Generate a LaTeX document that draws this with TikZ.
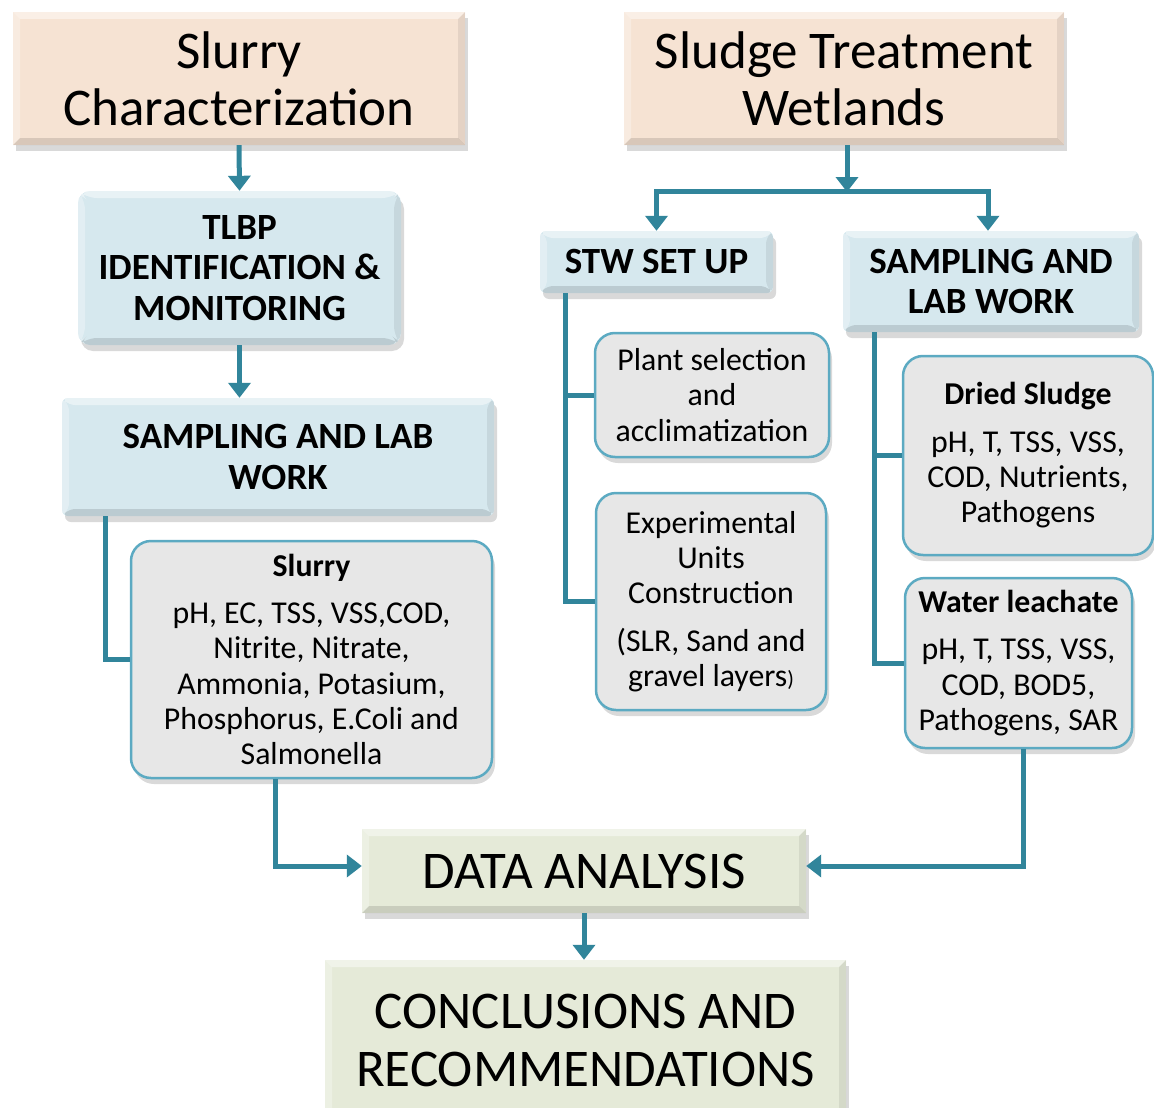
\documentclass[tikz,border=0pt]{standalone}
\usepackage{fontspec}
\setmainfont{Carlito}
\usetikzlibrary{arrows.meta,shadows}
\definecolor{peach}{RGB}{246,227,211}
\definecolor{paleblue}{RGB}{214,232,238}
\definecolor{palegray}{RGB}{231,231,231}
\definecolor{palegreen}{RGB}{229,234,216}
\definecolor{teal}{RGB}{49,133,155}
\definecolor{rim}{RGB}{92,170,194}
\tikzset{
	bevel/.style={path picture={
		\fill[white,opacity=.45] (path picture bounding box.north west) -- (path picture bounding box.north east) -- ([shift={(-7pt,-7pt)}]path picture bounding box.north east) -- ([shift={(7pt,-7pt)}]path picture bounding box.north west) -- cycle;
		\fill[white,opacity=.3] (path picture bounding box.north west) -- ([shift={(7pt,-7pt)}]path picture bounding box.north west) -- ([shift={(7pt,7pt)}]path picture bounding box.south west) -- (path picture bounding box.south west) -- cycle;
		\fill[black,opacity=.12] (path picture bounding box.south west) -- ([shift={(7pt,7pt)}]path picture bounding box.south west) -- ([shift={(-7pt,7pt)}]path picture bounding box.south east) -- (path picture bounding box.south east) -- cycle;
		\fill[black,opacity=.07] (path picture bounding box.north east) -- (path picture bounding box.south east) -- ([shift={(-7pt,7pt)}]path picture bounding box.south east) -- ([shift={(-7pt,-7pt)}]path picture bounding box.north east) -- cycle;
	}},
	boxshadow/.style={drop shadow={shadow xshift=3pt,shadow yshift=-6pt,opacity=.3}},
	titlebox/.style={fill=peach,bevel,boxshadow,align=center,inner sep=0pt,font=\fontsize{53}{57}\selectfont},
	stepbox/.style={fill=paleblue,rounded corners=12pt,bevel,boxshadow,align=center,inner sep=0pt,font=\bfseries\fontsize{37}{40.5}\selectfont},
	infobox/.style={fill=palegray,draw=rim,line width=2.5pt,rounded corners=20pt,boxshadow,align=center,inner sep=0pt,font=\fontsize{31.8}{35.3}\selectfont},
	resultbox/.style={fill=palegreen,bevel,boxshadow,align=center,inner sep=0pt,font=\fontsize{53}{58}\selectfont},
	link/.style={draw=teal,line width=5pt},
	arrowlink/.style={link,-{Triangle[width=22pt,length=15pt]}}
}

\begin{document}
\begin{tikzpicture}[x=1pt,y=1pt]
	%%%%% START %%%%%
	\useasboundingbox (0,0) rectangle (1154,-1108);
	
	\node[titlebox,minimum width=452,minimum height=133] (slurchar) at (239,-78.5) {Slurry\\Characterization};
	\node[titlebox,minimum width=440,minimum height=133] (stw) at (844,-78.5) {Sludge Treatment\\Wetlands};
	
	\node[stepbox,minimum width=323,minimum height=154] (tlbp) at (239.5,-268) {TLBP\\IDENTIFICATION \&\\MONITORING};
	\node[stepbox,rounded corners=6pt,minimum width=432,minimum height=118] (labL) at (278,-457) {SAMPLING AND LAB\\WORK};
	\node[stepbox,rounded corners=6pt,minimum width=233,minimum height=62] (setup) at (656.5,-262) {STW SET UP};
	\node[stepbox,rounded corners=6pt,minimum width=296,minimum height=101] (labR) at (991,-281.5) {SAMPLING AND\\LAB WORK};
	
	\node[infobox,minimum width=361,minimum height=237] (slurry) at (311.5,-659.5) {\textbf{Slurry}\\[12pt]pH, EC, TSS, VSS,COD,\\Nitrite, Nitrate,\\Ammonia, Potasium,\\Phosphorus, E.Coli and\\Salmonella};
	\node[infobox,minimum width=234,minimum height=124] (plant) at (712,-395) {Plant selection\\and\\acclimatization};
	\node[infobox,minimum width=230,minimum height=217] (units) at (711,-601.5) {Experimental\\Units\\Construction\\[12pt](SLR, Sand and\\gravel layers{\fontsize{22}{22}\selectfont)}};
	\node[infobox,minimum width=250,minimum height=199] (dried) at (1028,-455.5) {\textbf{Dried Sludge}\\[12pt]pH, T, TSS, VSS,\\COD, Nutrients,\\Pathogens};
	\node[infobox,minimum width=227,minimum height=170] (water) at (1018.5,-663) {\textbf{Water leachate}\\[12pt]pH, T, TSS, VSS,\\COD, BOD5,\\Pathogens, SAR};
	
	\node[resultbox,minimum width=444,minimum height=84] (data) at (584,-871) {DATA ANALYSIS};
	\node[resultbox,minimum width=521,minimum height=160] (concl) at (585.5,-1040) {CONCLUSIONS AND\\RECOMMENDATIONS};
	
	% connectors
	\draw[arrowlink] (slurchar.south) -- (tlbp.north);
	\draw[arrowlink] (tlbp.south) -- (labL.north -| tlbp.south);
	
	\coordinate (split) at (847,-191);
	\draw[arrowlink] (stw.south -| split) -- ([yshift=-1pt]split);
	\draw[arrowlink] (split) -| (setup.north);
	\draw[arrowlink] (split) -| ([xshift=-3pt]labR.north);
	
	\draw[link] ([xshift=-173pt]labL.south) |- (slurry.west);
	
	\draw[link] ([xshift=-91.5pt]setup.south) |- (plant.west);
	\draw[link] ([xshift=-91.5pt]setup.south) |- (units.west);
	
	\draw[link] ([xshift=-117pt]labR.south) |- (dried.west);
	\draw[link] ([xshift=-117pt]labR.south) |- (water.west);
	
	\draw[arrowlink] ([xshift=-36.5pt]slurry.south) |- ([yshift=5pt]data.west);
	\draw[arrowlink] ([xshift=4.5pt]water.south) |- ([yshift=5pt]data.east);
	\draw[arrowlink] (data.south) -- (data.south |- concl.north);
	%%%%% END %%%%%
\end{tikzpicture}
\end{document}
